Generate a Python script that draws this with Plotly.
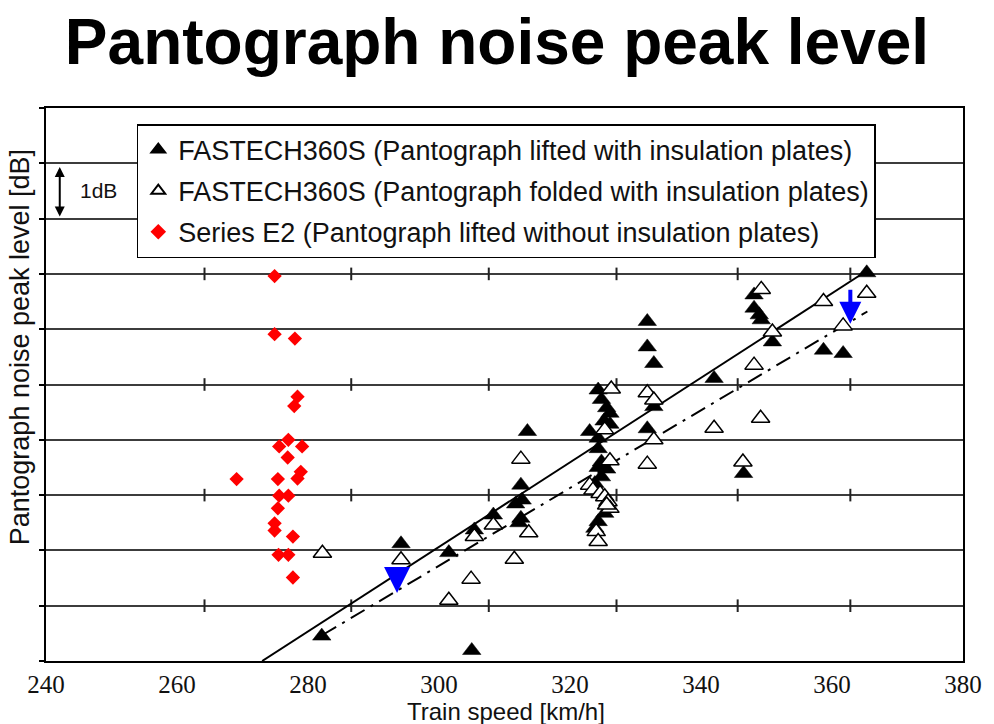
import plotly.graph_objects as go

# Train speed [km/h] and relative peak level [dB] for each pass-by
lifted_speed = [282.1, 305.0, 294.2, 301.5, 305.4, 308.3, 313.5, 312.5, 312.7, 311.7,
                312.5, 312.2, 323.0, 324.3, 324.8, 325.6, 326.1, 325.2, 326.1, 324.3,
                324.3, 324.8, 324.3, 325.6, 324.8, 323.8, 325.3, 324.3, 323.8, 331.8,
                331.8, 332.8, 332.8, 331.8, 342.0, 346.5, 348.1, 348.1, 348.9, 349.2,
                350.9, 358.7, 361.7, 365.3]
lifted_level = [0.45, 0.19, 2.12, 1.96, 2.37, 2.64, 4.15, 3.18, 2.91, 2.84,
                2.58, 2.50, 4.15, 4.90, 4.73, 4.58, 4.48, 4.34, 4.28, 4.03,
                3.84, 3.60, 3.50, 3.47, 3.33, 3.21, 2.67, 2.52, 2.40, 6.14,
                5.68, 5.38, 4.60, 4.20, 5.11, 3.39, 6.62, 6.38, 6.26, 6.17,
                5.77, 5.62, 5.56, 7.02]

folded_speed = [282.2, 294.2, 301.5, 304.9, 305.4, 308.3, 312.5, 313.7, 311.5, 326.3,
                325.3, 326.1, 323.0, 323.5, 324.6, 325.3, 325.8, 326.1, 325.6, 324.0,
                324.3, 331.8, 332.8, 332.8, 331.8, 342.0, 346.4, 348.1, 349.1, 349.2,
                350.9, 358.7, 361.7, 365.3]
folded_level = [1.95, 1.83, 1.10, 1.48, 2.25, 2.46, 3.65, 2.32, 1.84, 4.92,
                4.18, 3.62, 3.18, 3.09, 3.03, 2.97, 2.88, 2.76, 2.82, 2.34,
                2.16, 4.85, 4.72, 4.00, 3.56, 4.21, 3.60, 5.35, 4.39, 6.72,
                5.95, 6.50, 6.06, 6.65]

e2_speed = [274.9, 274.9, 278.0, 278.4, 277.9, 277.0, 275.6, 279.1, 276.9, 278.9,
            278.4, 269.1, 275.4, 275.6, 277.0, 275.4, 274.9, 274.9, 277.7, 275.5,
            277.0, 277.7]
e2_level = [6.96, 5.91, 5.83, 4.78, 4.61, 4.00, 3.88, 3.88, 3.68, 3.42,
            3.30, 3.29, 3.29, 2.99, 2.99, 2.76, 2.49, 2.36, 2.25, 1.92,
            1.92, 1.51]

# Trend lines (end points)
lifted_fit_speed = [273.0, 365.5]
lifted_fit_level = [0.0, 7.07]
folded_fit_speed = [282.2, 365.4]
folded_fit_level = [0.47, 6.32]

# Reduction arrows between the two trends
drop_speed = [293.6, 362.8]
drop_from = [1.61, 6.74]
drop_to = [1.23, 6.10]
drop_head = [1.3, 1.1]

# Minor tick marks on the odd grid lines
minor_tick_speed = [264.2, 286.6, 307.6, 327.1, 345.6, 362.8]
minor_tick_levels = [1, 3, 5, 7]

x_ticks = [240, 260, 280, 300, 320, 340, 360, 380]

TEXT = "#111111"
SANS = "Liberation Sans, Arial, sans-serif"

fig = go.Figure()

mt_x = [s for lv in minor_tick_levels for s in minor_tick_speed]
mt_y = [lv for lv in minor_tick_levels for s in minor_tick_speed]
fig.add_trace(go.Scatter(
    x=mt_x, y=mt_y, mode="markers", showlegend=False, hoverinfo="skip",
    marker=dict(symbol="line-ns", size=9, line=dict(width=2, color="#222222")),
))

fig.add_trace(go.Scatter(
    x=lifted_fit_speed, y=lifted_fit_level, mode="lines", showlegend=False,
    line=dict(color="black", width=2), hoverinfo="skip",
))
fig.add_trace(go.Scatter(
    x=folded_fit_speed, y=folded_fit_level, mode="lines", showlegend=False,
    line=dict(color="black", width=2, dash="16px,7px,3px,7px"), hoverinfo="skip",
))

fig.add_trace(go.Scatter(
    x=lifted_speed, y=lifted_level, mode="markers", legendgroup="a",
    name="FASTECH360S (Pantograph lifted with insulation plates)",
    marker=dict(symbol="triangle-up", size=16, color="black",
                line=dict(width=0.5, color="black")),
))
fig.add_trace(go.Scatter(
    x=folded_speed, y=folded_level, mode="markers", legendgroup="b",
    name="FASTECH360S (Pantograph folded with insulation plates)",
    marker=dict(symbol="triangle-up", size=16, color="white",
                line=dict(width=1.5, color="black")),
))
fig.add_trace(go.Scatter(
    x=e2_speed, y=e2_level, mode="markers", legendgroup="c",
    name="Series E2 (Pantograph lifted without insulation plates)",
    marker=dict(symbol="diamond", size=11, color="#ff0000",
                line=dict(width=0, color="#ff0000")),
))

annotations = []
for sx, y0, y1, hs in zip(drop_speed, drop_from, drop_to, drop_head):
    annotations.append(dict(
        x=sx, y=y1, ax=sx, ay=y0, xref="x", yref="y", axref="x", ayref="y",
        text="", showarrow=True, arrowhead=2, arrowsize=hs, arrowwidth=4,
        arrowcolor="#0000ff",
    ))

# 1 dB scale bar
annotations.append(dict(
    x=242.1, y=8.04, ax=242.1, ay=8.96, xref="x", yref="y", axref="x", ayref="y",
    text="", showarrow=True, arrowhead=2, arrowside="end+start",
    arrowsize=1, arrowwidth=2, arrowcolor="black",
))
annotations.append(dict(
    x=248.0, y=8.5, xref="x", yref="y", text="1dB", showarrow=False,
    font=dict(family=SANS, size=21, color=TEXT),
))

# Axis titles
annotations.append(dict(
    x=-0.028, y=0.568, xref="paper", yref="paper", text="Pantograph noise peak level [dB]",
    textangle=-90, showarrow=False, xanchor="center", yanchor="middle",
    font=dict(family=SANS, size=27, color=TEXT),
))
annotations.append(dict(
    x=0.502, y=(661 - 711) / 553, xref="paper", yref="paper", text="Train speed [km/h]",
    showarrow=False, xanchor="center", yanchor="middle",
    font=dict(family=SANS, size=24, color=TEXT),
))

fig.update_layout(
    width=994, height=724,
    margin=dict(l=46, r=28, t=108, b=63),
    paper_bgcolor="white", plot_bgcolor="white",
    title=dict(
        text="<b>Pantograph noise peak level</b>",
        x=0.5, xanchor="center", y=1 - 42 / 724, yanchor="middle",
        font=dict(family=SANS, size=64, color="black"),
    ),
    legend=dict(
        x=0.099, y=0.971, xanchor="left", yanchor="top",
        bgcolor="white", bordercolor="black", borderwidth=1.5,
        font=dict(family=SANS, size=27, color=TEXT),
        itemsizing="constant", tracegroupgap=3,
    ),
    annotations=annotations,
    showlegend=True,
)

fig.update_xaxes(
    range=[240, 380], tickvals=x_ticks, ticktext=[str(t) for t in x_ticks],
    showgrid=False, zeroline=False, showline=True, mirror=True,
    linecolor="black", linewidth=2, ticks="", ticklabelstandoff=0,
    tickfont=dict(family="Liberation Serif, Times New Roman, serif", size=25, color=TEXT),
)
fig.update_yaxes(
    range=[0, 10], dtick=1, tick0=0, showticklabels=False,
    showgrid=True, gridcolor="#3c3c3c", gridwidth=1.8, zeroline=False,
    showline=True, mirror=True, linecolor="black", linewidth=2,
    ticks="outside", ticklen=5, tickwidth=1.5, tickcolor="black",
)

fig.write_html("out.html")
